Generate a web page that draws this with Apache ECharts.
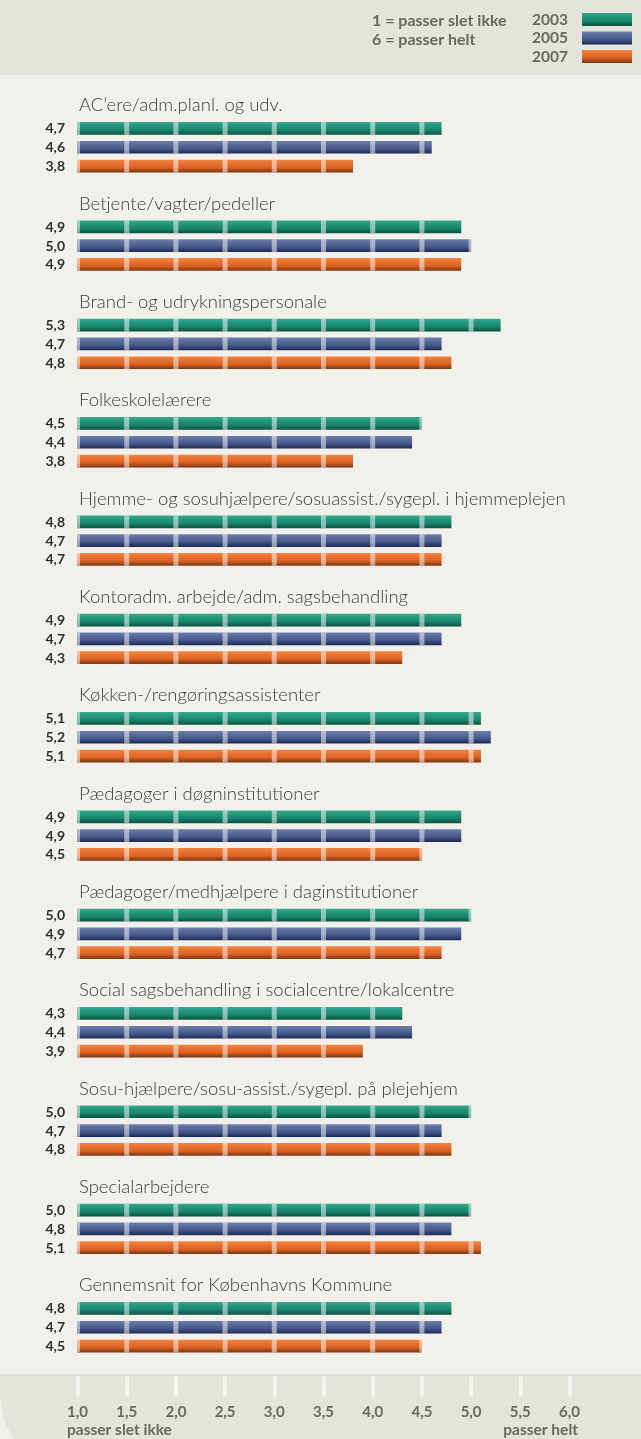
<!DOCTYPE html>
<html>
<head>
<meta charset="utf-8">
<style>
html,body{margin:0;padding:0;background:#f1f0eb;}
#chart{width:641px;height:1439px;}
</style>
<script src="https://cdn.jsdelivr.net/npm/echarts@6/dist/echarts.min.js"></script>
</head>
<body>
<div id="chart"></div>
<script>
const categories = [
  'AC’ere/adm.planl. og udv.',
  'Betjente/vagter/pedeller',
  'Brand- og udrykningspersonale',
  'Folkeskolelærere',
  'Hjemme- og sosuhjælpere/sosuassist./sygepl. i hjemmeplejen',
  'Kontoradm. arbejde/adm. sagsbehandling',
  'Køkken-/rengøringsassistenter',
  'Pædagoger i døgninstitutioner',
  'Pædagoger/medhjælpere i daginstitutioner',
  'Social sagsbehandling i socialcentre/lokalcentre',
  'Sosu-hjælpere/sosu-assist./sygepl. på plejehjem',
  'Specialarbejdere',
  'Gennemsnit for Københavns Kommune'
];
const years = ['2003', '2005', '2007'];
const values2003 = [4.7, 4.9, 5.3, 4.5, 4.8, 4.9, 5.1, 4.9, 5.0, 4.3, 5.0, 5.0, 4.8];
const values2005 = [4.6, 5.0, 4.7, 4.4, 4.7, 4.7, 5.2, 4.9, 4.9, 4.4, 4.7, 4.8, 4.7];
const values2007 = [3.8, 4.9, 4.8, 3.8, 4.7, 4.3, 5.1, 4.5, 4.7, 3.9, 4.8, 5.1, 4.5];
const xTickValues = [1.0, 1.5, 2.0, 2.5, 3.0, 3.5, 4.0, 4.5, 5.0, 5.5, 6.0];
const xTickLabels = ['1,0', '1,5', '2,0', '2,5', '3,0', '3,5', '4,0', '4,5', '5,0', '5,5', '6,0'];
const scaleNotes = ['1 = passer slet ikke', '6 = passer helt'];
const axisEndNotes = ['passer slet ikke', 'passer helt'];

const seriesValues = [values2003, values2005, values2007];
const gradients = [
  [[0, '#3aa88e'], [0.3, '#22967c'], [0.6, '#1a866d'], [1, '#0a5242']],
  [[0, '#6b7fac'], [0.3, '#586b9a'], [0.6, '#46588a'], [1, '#1c2850']],
  [[0, '#f08544'], [0.3, '#e8712f'], [0.6, '#dc6424'], [1, '#7a3414']]
];
function grad(stops) {
  return {type: 'linear', x: 0, y: 0, x2: 0, y2: 1, global: false,
    colorStops: stops.map(s => ({offset: s[0], color: s[1]}))};
}
const BAR_H = 12.7, BAR_STEP = 18.8, STRIPE_W = 5, TITLE_OFFSET = 42;
const FONT = 'Lato, "Open Sans", "DejaVu Sans", sans-serif';

function makeRender(si) {
  return function (params, api) {
    const v = api.value(0), c = api.value(1);
    const p0 = api.coord([1, c]);
    const p1 = api.coord([v, c]);
    const yc = p0[1] + (si - 1) * BAR_STEP;
    const x0 = p0[0] - 0.5, x1 = p1[0];
    const children = [{
      type: 'rect',
      shape: {x: x0, y: yc - BAR_H / 2, width: x1 - x0, height: BAR_H},
      style: {fill: grad(gradients[si])}
    }];
    for (let i = 0; i < xTickValues.length; i++) {
      const t = xTickValues[i];
      if (t > v + 1e-9) break;
      const xs = api.coord([t, c])[0];
      const a = Math.max(x0, xs - STRIPE_W / 2), b = Math.min(x1, xs + STRIPE_W / 2);
      if (b > a) children.push({
        type: 'rect',
        shape: {x: a, y: yc - BAR_H / 2, width: b - a, height: BAR_H},
        style: {fill: 'rgba(255,255,255,0.5)'}
      });
    }
    children.push({
      type: 'text',
      style: {
        x: p0[0] - 12.5, y: yc + 0.5,
        text: v.toFixed(1).replace('.', ','),
        align: 'right', verticalAlign: 'middle',
        fontFamily: FONT, fontWeight: 'bold', fontSize: 14, fill: '#2e2e2e'
      }
    });
    return {type: 'group', children: children};
  };
}

function renderTitle(params, api) {
  const c = api.value(1);
  const p = api.coord([1, c]);
  return {
    type: 'text',
    style: {
      x: p[0] + 1.5, y: p[1] - TITLE_OFFSET,
      text: categories[c],
      align: 'left', verticalAlign: 'middle',
      fontFamily: FONT, fontWeight: 300, fontSize: 18.5, fill: '#3b3b3b'
    }
  };
}

const chart = echarts.init(document.getElementById('chart'), null, {renderer: 'canvas'});
const series = years.map((y, si) => ({
  type: 'custom',
  name: y,
  itemStyle: {color: grad(gradients[si])},
  renderItem: makeRender(si),
  encode: {x: 0, y: 1},
  data: seriesValues[si].map((v, ci) => [v, ci])
}));
series.push({
  type: 'custom',
  name: 'titles',
  renderItem: renderTitle,
  encode: {x: 0, y: 1},
  data: categories.map((n, ci) => [1, ci])
});

const option = {
  backgroundColor: '#f1f0eb',
  animation: false,
  grid: {left: 77.5, right: 71.5, top: 98.1, bottom: 62.6, containLabel: false},
  legend: {
    data: years,
    orient: 'vertical',
    right: 9, top: 11.5,
    padding: 0,
    align: 'right',
    icon: 'rect',
    itemWidth: 50, itemHeight: 13, itemGap: 2.5,
    selectedMode: false,
    textStyle: {fontFamily: FONT, fontWeight: 'bold', fontSize: 15.5, color: '#6a6960', padding: [0, 9, 0, 0]}
  },
  xAxis: {
    type: 'value', min: 1, max: 6, interval: 0.5,
    axisLine: {show: false},
    splitLine: {show: false},
    axisTick: {show: true, length: 20, lineStyle: {color: '#f5f4ef', width: 4}},
    axisLabel: {
      margin: 28,
      fontFamily: FONT, fontWeight: 'bold', fontSize: 15, color: '#6a6960',
      formatter: function (val) {
        const i = xTickValues.findIndex(t => Math.abs(t - val) < 1e-6);
        return i >= 0 ? xTickLabels[i] : '';
      }
    }
  },
  yAxis: {
    type: 'category', data: categories, inverse: true,
    axisLine: {show: false}, axisTick: {show: false}, splitLine: {show: false},
    axisLabel: {show: false}
  },
  graphic: [
    {type: 'rect', z: -10, silent: true, shape: {x: 0, y: 0, width: 641, height: 75}, style: {fill: '#e4e3dc'}},
    {type: 'rect', z: -10, silent: true, shape: {x: 0, y: 1374, width: 643, height: 102, r: [0, 0, 30, 83]}, style: {fill: '#e4e3dc'}},
    {type: 'text', z: 5, left: 372, top: 13, style: {text: scaleNotes[0], fontFamily: FONT, fontWeight: 'bold', fontSize: 16, fill: '#6a6960'}},
    {type: 'text', z: 5, left: 372, top: 32, style: {text: scaleNotes[1], fontFamily: FONT, fontWeight: 'bold', fontSize: 16, fill: '#6a6960'}},
    {type: 'text', z: 5, left: 67, top: 1422, style: {text: axisEndNotes[0], fontFamily: FONT, fontWeight: 'bold', fontSize: 15.5, fill: '#6a6960'}},
    {type: 'text', z: 5, right: 63, top: 1422, style: {text: axisEndNotes[1], fontFamily: FONT, fontWeight: 'bold', fontSize: 15.5, fill: '#6a6960'}}
  ],
  series: series
};
chart.setOption(option);
</script>
</body>
</html>
